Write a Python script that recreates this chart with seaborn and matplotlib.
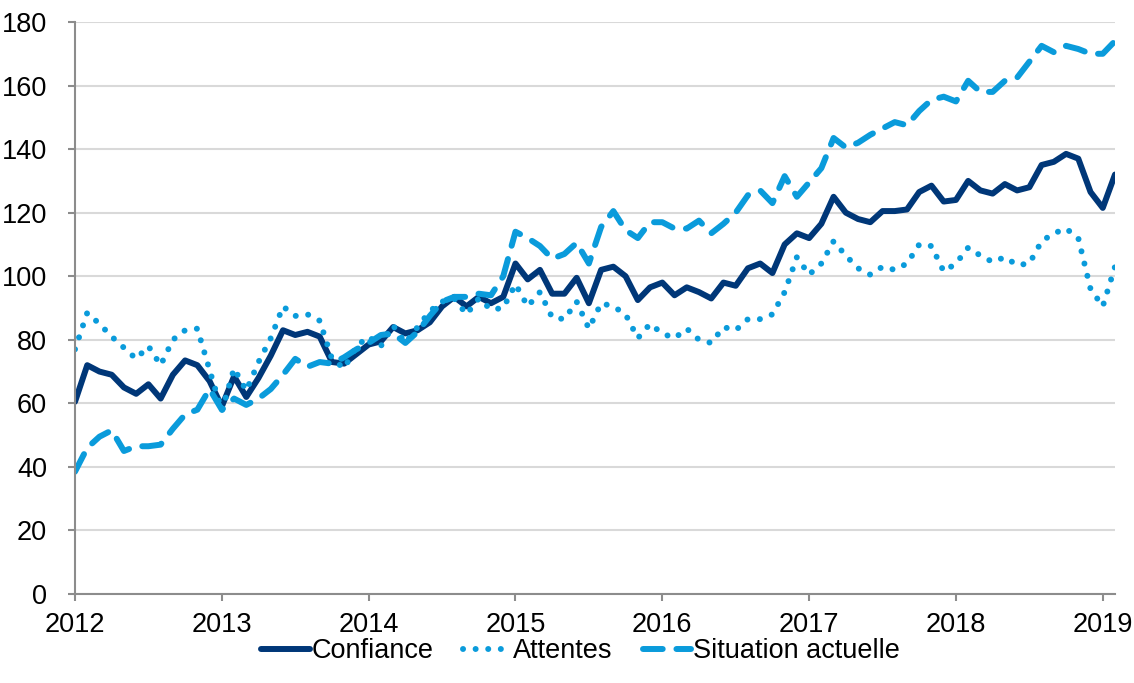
import numpy as np
import pandas as pd
import matplotlib
matplotlib.use("Agg")
import matplotlib.pyplot as plt
import seaborn as sns

# === Data (monthly, Jan 2012 -> Feb 2019) ===
years = ["2012", "2013", "2014", "2015", "2016", "2017", "2018", "2019"]

confiance = [
    60.5, 72, 70, 69, 65, 63, 66, 61.5, 69, 73.5, 72, 67,            # 2012
    59, 68.5, 62, 68, 75, 83, 81.5, 82.5, 81, 73, 72.5, 75.5,         # 2013
    78.5, 79.5, 84, 82, 83, 85.5, 90.5, 93.5, 90.5, 93.5, 91.5, 93.5, # 2014
    104, 99, 102, 94.5, 94.5, 99.5, 91.5, 102, 103, 100, 92.5, 96.5,  # 2015
    98, 94, 96.5, 95, 93, 98, 97, 102.5, 104, 101, 110, 113.5,        # 2016
    112, 116.5, 125, 120, 118, 117, 120.5, 120.5, 121, 126.5, 128.5, 123.5,  # 2017
    124, 130, 127, 126, 129, 127, 128, 135, 136, 138.5, 137, 126.5,   # 2018
    121.5, 132,                                                       # 2019
]

attentes = [
    77, 88.5, 85, 81, 77.5, 74, 78, 72, 80, 83, 83.5, 70.5,
    57.5, 71, 64, 73, 80.5, 90.5, 87.5, 88, 86, 74, 71, 78,
    81, 78, 84.5, 79, 84, 89, 92, 93, 88, 93, 89.5, 90,
    97.5, 90.5, 95, 87, 86.5, 92, 83.5, 91.5, 90.5, 88, 80.5, 85,
    82, 80.5, 83.5, 80, 79, 84, 83, 86.5, 86.5, 88, 95, 106,
    100.5, 104, 111, 106.5, 102.5, 100.5, 103, 102, 104, 110, 109.5, 101.5,
    104, 109, 106.5, 104.5, 106, 103.5, 104, 111, 113.5, 115, 112, 96,
    90.5, 103,
]

situation = [
    38.5, 46, 49.5, 51.5, 45, 46.5, 46.5, 47, 52, 56.5, 58, 64.5,
    58, 61.5, 59.5, 61.5, 64.5, 69, 74, 71.5, 73, 72.5, 74.5, 77,
    79, 81.5, 82, 79, 82.5, 87.5, 92, 93.5, 93.5, 94.5, 94, 100,
    114, 112, 109.5, 105.5, 107, 110.5, 104, 115.5, 120.5, 114.5, 112, 117,
    117, 115, 115, 117.5, 113.5, 116.5, 120, 125.5, 127, 123, 131.5, 125,
    129.5, 134, 143.5, 140.5, 142, 144.5, 146.5, 148.5, 147.5, 152, 155.5, 156.5,
    155, 161.5, 158, 158, 161.5, 162.5, 167.5, 172.5, 170.5, 172.5, 171.5, 170,
    170, 174,
]

series_names = ["Confiance", "Attentes", "Situation actuelle"]

month = np.arange(len(confiance))
df = pd.DataFrame({
    "month": np.tile(month, 3),
    "value": confiance + attentes + situation,
    "serie": np.repeat(series_names, len(month)),
})

# === Style ===
sns.set_theme(style="white")
plt.rcParams["font.family"] = ["Liberation Sans", "DejaVu Sans"]

dark = "#003778"
light = "#0A9BDB"
palette = {"Confiance": dark, "Attentes": light, "Situation actuelle": light}
dashes = {"Confiance": "", "Attentes": (0.01, 2.1), "Situation actuelle": (3.3, 2.3)}

fig = plt.figure(figsize=(11.34, 6.83), dpi=100)
ax = fig.add_axes([75 / 1134, 1 - 594 / 683, 1040 / 1134, 572 / 683])

sns.lineplot(data=df, x="month", y="value", hue="serie", style="serie",
             palette=palette, dashes=dashes, linewidth=4.3, ax=ax)

for line in ax.get_lines():
    line.set_dash_capstyle("round")
    line.set_solid_capstyle("round")
    line.set_solid_joinstyle("round")
    line.set_dash_joinstyle("round")

ax.set_xlim(0, len(month) - 1)
ax.set_ylim(0, 180)
ax.set_yticks(np.arange(0, 181, 20))
ax.set_xticks(np.arange(0, 12 * len(years), 12))
ax.set_xticklabels(years)
ax.set_xlabel("")
ax.set_ylabel("")

ax.grid(axis="y", color="#D9D9D9", linewidth=1.5)
ax.set_axisbelow(True)
for side in ["top", "right"]:
    ax.spines[side].set_visible(False)
for side in ["left", "bottom"]:
    ax.spines[side].set_color("#8C8C8C")
    ax.spines[side].set_linewidth(1.5)

ax.tick_params(axis="both", which="both", direction="out", length=5, width=1.5,
               color="#8C8C8C", labelsize=19.5, labelcolor="black")
ax.tick_params(axis="y", pad=15)
ax.tick_params(axis="x", pad=8)
ax.yaxis.set_tick_params(left=True)
ax.xaxis.set_tick_params(bottom=True)

handles, labels = ax.get_legend_handles_labels()
for h in handles:
    h.set_dash_capstyle("round")
ax.legend(handles, labels, loc="center", bbox_to_anchor=(0.486, -0.1),
          ncol=3, frameon=False, fontsize=19.5, handlelength=1.8,
          handletextpad=0.05, columnspacing=1.1, borderpad=0,
          labelcolor="black")

fig.savefig("out.png", dpi=100)
